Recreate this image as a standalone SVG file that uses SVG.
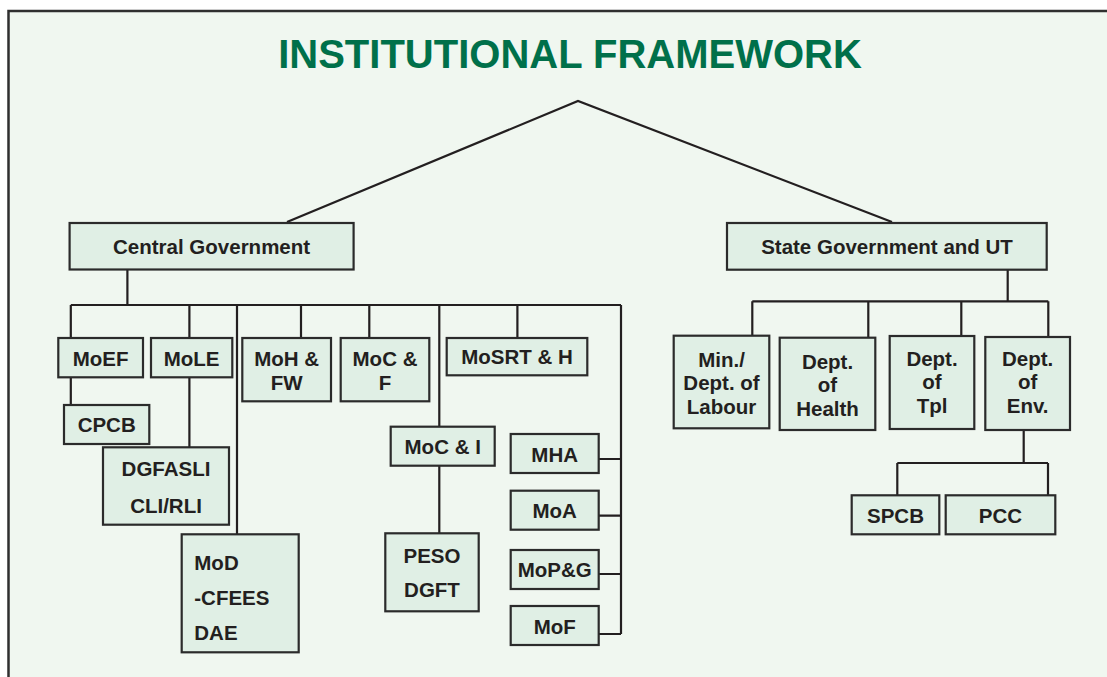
<svg xmlns="http://www.w3.org/2000/svg" width="1107" height="677" viewBox="0 0 1107 677">
<style>
.bg{fill:#F0F7F0;stroke:#2f2f2f;stroke-width:2.5}
.n{fill:#E0EFE5;stroke:#2b2b2b;stroke-width:2.2}
.t{font-family:"Liberation Sans",Arial,sans-serif;font-weight:bold;font-size:20.5px;fill:#231F20;text-anchor:middle}
.l{text-anchor:start}
.c{fill:none;stroke:#231F20;stroke-width:2.2}
.title{font-family:"Liberation Sans",Arial,sans-serif;font-weight:bold;font-size:40px;fill:#00704A;text-anchor:middle}
</style>
<rect width="1107" height="677" fill="#ffffff"/>
<rect class="bg" x="8.5" y="11" width="1200" height="800"/>
<text class="title" x="570" y="68">INSTITUTIONAL FRAMEWORK</text>

<g id="connectors">
<polyline class="c" points="287,222 578,101 892,222"/>
<path class="c" d="M127.4,269V305M70.8,305H621M70.8,305V338M189.4,305V338M237,305V534M301,305V338M369.3,305V338M439.3,305V427M517.4,305V338M621,305V634"/>
<path class="c" d="M70.8,377V405M189.4,377V447M439.3,466V533"/>
<path class="c" d="M598.7,459H621M598.7,515.7H621M598.7,574H621M598.7,634H621"/>
<path class="c" d="M1007.7,270V301.3M752.3,301.3H1048.3M752.3,301.3V336M868.3,301.3V337.7M961.3,301.3V336M1048.3,301.3V337"/>
<path class="c" d="M1023.7,430V463M897.3,463H1048M897.3,463V495.3M1048,463V495.3"/>
</g>

<g id="central"><rect class="n" x="69.6" y="223" width="284" height="46.5"/><text class="t" x="211.6" y="254">Central Government</text></g>
<g id="state"><rect class="n" x="727" y="223" width="319.7" height="46.7"/><text class="t" x="887" y="254">State Government and UT</text></g>

<g id="moef"><rect class="n" x="58.3" y="338" width="84.7" height="39.3"/><text class="t" x="100.6" y="366">MoEF</text></g>
<g id="mole"><rect class="n" x="151" y="338" width="81.3" height="39.3"/><text class="t" x="191.6" y="366">MoLE</text></g>
<g id="cpcb"><rect class="n" x="64" y="405" width="85.3" height="39"/><text class="t" x="106.7" y="432">CPCB</text></g>
<g id="dgfasli"><rect class="n" x="103" y="447.3" width="126" height="77.4"/><text class="t" x="166" y="475.5">DGFASLI</text><text class="t" x="166" y="512.5">CLI/RLI</text></g>
<g id="mod"><rect class="n" x="181.7" y="534.3" width="117" height="118"/><text class="t l" x="194.3" y="570">MoD</text><text class="t l" x="194.3" y="604.5">-CFEES</text><text class="t l" x="194.3" y="639.5">DAE</text></g>
<g id="mohfw"><rect class="n" x="242.3" y="338" width="88.7" height="63.3"/><text class="t" x="286.7" y="366">MoH &amp;</text><text class="t" x="286.7" y="389.5">FW</text></g>
<g id="mocf"><rect class="n" x="340.7" y="338" width="88.6" height="63.3"/><text class="t" x="385" y="366">MoC &amp;</text><text class="t" x="385" y="389.5">F</text></g>
<g id="mosrth"><rect class="n" x="446.7" y="338" width="140.6" height="37.3"/><text class="t" x="517" y="364">MoSRT &amp; H</text></g>
<g id="moci"><rect class="n" x="390.7" y="426.7" width="104" height="39"/><text class="t" x="442.7" y="454">MoC &amp; I</text></g>
<g id="peso"><rect class="n" x="385.3" y="533.3" width="93.4" height="78"/><text class="t" x="432" y="563">PESO</text><text class="t" x="432" y="597">DGFT</text></g>
<g id="mha"><rect class="n" x="510.7" y="434" width="88" height="39"/><text class="t" x="554.7" y="461.5">MHA</text></g>
<g id="moa"><rect class="n" x="510.7" y="490.7" width="88" height="39"/><text class="t" x="554.7" y="518">MoA</text></g>
<g id="mopg"><rect class="n" x="510.7" y="550" width="88" height="39"/><text class="t" x="554.7" y="577">MoP&amp;G</text></g>
<g id="mof"><rect class="n" x="510.7" y="606" width="88" height="39"/><text class="t" x="554.7" y="633.5">MoF</text></g>

<g id="labour"><rect class="n" x="673.7" y="335.7" width="95.6" height="92.6"/><text class="t" x="721.5" y="366.5">Min./</text><text class="t" x="721.5" y="390">Dept. of</text><text class="t" x="721.5" y="413.5">Labour</text></g>
<g id="health"><rect class="n" x="779.7" y="337.7" width="95.6" height="92.3"/><text class="t" x="827.5" y="368.5">Dept.</text><text class="t" x="827.5" y="392">of</text><text class="t" x="827.5" y="415.5">Health</text></g>
<g id="tpl"><rect class="n" x="889.7" y="336" width="84.6" height="93"/><text class="t" x="932" y="365.5">Dept.</text><text class="t" x="932" y="389">of</text><text class="t" x="932" y="412.5">Tpl</text></g>
<g id="env"><rect class="n" x="985.3" y="337" width="84.7" height="93"/><text class="t" x="1027.7" y="365.5">Dept.</text><text class="t" x="1027.7" y="389">of</text><text class="t" x="1027.7" y="412.5">Env.</text></g>
<g id="spcb"><rect class="n" x="851.7" y="495.3" width="87.6" height="39"/><text class="t" x="895.5" y="522.5">SPCB</text></g>
<g id="pcc"><rect class="n" x="945.7" y="495.3" width="109.6" height="39"/><text class="t" x="1000.5" y="522.5">PCC</text></g>
</svg>
